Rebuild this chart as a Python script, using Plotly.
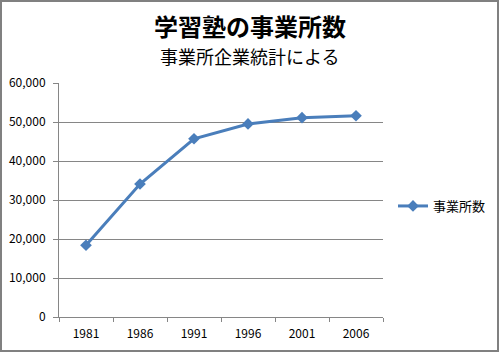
import plotly.graph_objects as go

years = ["1981", "1986", "1991", "1996", "2001", "2006"]
counts = [18400, 34100, 45700, 49500, 51100, 51600]
series_name = "事業所数"
title_main = "学習塾の事業所数"
title_sub = "事業所企業統計による"

W, H = 500, 353
L, R, T, B = 59, 117, 83, 36
pw = W - L - R
ph = H - T - B

fig = go.Figure()
fig.add_trace(go.Scatter(
    x=years, y=counts, mode="lines+markers", name=series_name,
    line=dict(color="#4A7EBB", width=3),
    marker=dict(symbol="diamond", size=9, color="#4A7EBB"),
))

font = "Noto Sans CJK JP, Open Sans, sans-serif"
fig.update_layout(
    width=W, height=H,
    margin=dict(l=L, r=R, t=T, b=B, autoexpand=False),
    paper_bgcolor="white", plot_bgcolor="white",
    font=dict(family=font, size=12, color="#000000"),
    showlegend=True,
    legend=dict(x=(393 - L) / pw, xanchor="left", y=(H - B - 206) / ph, yanchor="middle",
                font=dict(size=13, family=font), itemwidth=30,
                bgcolor="rgba(0,0,0,0)"),
    xaxis=dict(type="category", showline=True, linecolor="#868686", linewidth=1,
               ticks="outside", tickson="boundaries", ticklen=4, tickcolor="#868686",
               showgrid=False, tickfont=dict(size=12), range=[-0.5, 5.5], fixedrange=True,
               ticklabelstandoff=6),
    yaxis=dict(range=[0, 60000], dtick=10000, tickformat=",d", showline=True,
               linecolor="#868686", linewidth=1, ticks="outside", ticklen=5,
               tickcolor="#868686", showgrid=True, gridcolor="#868686", gridwidth=1,
               zeroline=False, tickfont=dict(size=12), fixedrange=True,
               ticklabelstandoff=5),
    annotations=[
        dict(text="<b>" + title_main + "</b>", x=(250 - L) / pw, y=(H - B - 26) / ph,
             xref="paper", yref="paper", showarrow=False, xanchor="center", yanchor="middle",
             font=dict(size=24, family=font, color="#000000")),
        dict(text=title_sub, x=(250 - L) / pw, y=(H - B - 56) / ph,
             xref="paper", yref="paper", showarrow=False, xanchor="center", yanchor="middle",
             font=dict(size=18, family=font, color="#000000")),
    ],
    shapes=[dict(type="rect", xref="paper", yref="paper",
                 x0=(1 - L) / pw, x1=(498 - L) / pw,
                 y0=(H - B - 351) / ph, y1=(H - B - 1) / ph,
                 line=dict(color="#808080", width=2), layer="below")],
)

fig.write_html("out.html")
